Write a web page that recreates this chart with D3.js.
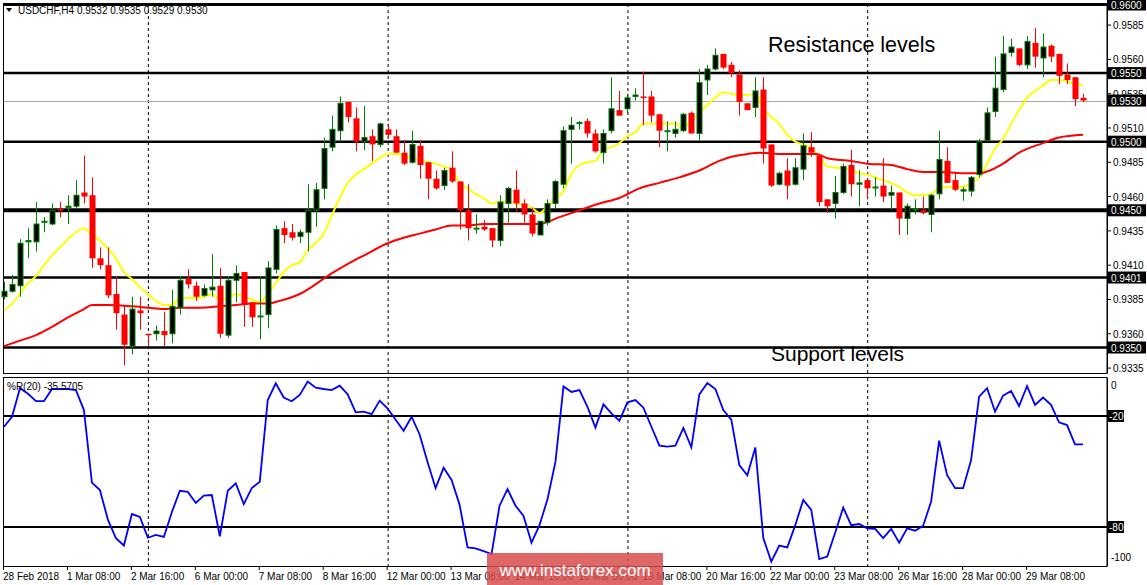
<!DOCTYPE html>
<html><head><meta charset="utf-8">
<script src="https://cdn.jsdelivr.net/npm/d3@7/dist/d3.min.js"></script>
<style>body{margin:0;background:#fff}svg{display:block}text{font-family:"Liberation Sans",Arial,sans-serif}</style>
</head><body><svg id="c" width="1147" height="585"></svg>
<script>
const open=[9387,9391,9395,9427,9427,9442,9440,9451,9452,9453,9463,9461,9415,9410,9389,9374,9351,9377,9360,9360,9362,9360,9379,9400,9395,9388,9392,9395,9359,9399,9405,9383,9373,9374,9407,9437,9434,9431,9434,9450,9466,9496,9508,9529,9517,9500,9504,9498,9509,9504,9492,9485,9497,9485,9473,9468,9481,9471,9450,9437,9438,9437,9428,9455,9465,9455,9447,9432,9441,9455,9469,9509,9514,9515,9506,9492,9508,9523,9524,9533,9533,9533,9520,9508,9506,9508,9521,9506,9545,9553,9564,9556,9549,9528,9525,9538,9498,9469,9479,9469,9480,9496,9490,9458,9455,9463,9483,9469,9472,9467,9468,9461,9463,9444,9451,9450,9447,9462,9486,9472,9464,9464,9476,9501,9522,9538,9565,9568,9556,9572,9561,9570,9564,9549,9547,9532];
const high=[9398,9403,9429,9437,9456,9445,9455,9456,9461,9472,9490,9474,9423,9423,9402,9381,9387,9387,9360,9366,9376,9392,9402,9407,9398,9396,9418,9408,9402,9410,9405,9383,9402,9413,9439,9442,9440,9436,9469,9470,9503,9519,9533,9529,9525,9526,9509,9514,9513,9509,9501,9508,9501,9485,9479,9481,9493,9471,9469,9447,9443,9437,9461,9467,9479,9458,9452,9442,9458,9472,9511,9518,9515,9517,9509,9509,9547,9537,9535,9539,9551,9537,9520,9515,9515,9521,9522,9553,9556,9568,9564,9558,9552,9528,9547,9547,9498,9478,9488,9488,9506,9507,9491,9458,9475,9484,9494,9479,9472,9474,9488,9468,9463,9455,9458,9460,9462,9508,9496,9478,9467,9475,9502,9525,9562,9577,9575,9568,9577,9583,9579,9571,9564,9557,9547,9535];
const low=[9385,9390,9387,9415,9420,9434,9439,9445,9440,9451,9455,9408,9407,9386,9363,9337,9345,9363,9351,9355,9351,9353,9374,9393,9384,9387,9387,9357,9357,9383,9365,9365,9356,9364,9404,9426,9428,9426,9420,9438,9458,9493,9500,9514,9493,9494,9486,9496,9503,9492,9483,9484,9473,9458,9465,9465,9470,9436,9428,9433,9435,9423,9424,9441,9449,9441,9431,9432,9439,9451,9466,9484,9509,9503,9492,9484,9506,9519,9521,9530,9512,9514,9496,9493,9503,9507,9506,9501,9534,9552,9553,9547,9519,9523,9518,9484,9467,9468,9458,9468,9472,9489,9453,9448,9444,9462,9460,9453,9458,9460,9456,9450,9432,9432,9447,9447,9434,9458,9470,9464,9457,9460,9474,9500,9518,9536,9562,9555,9553,9554,9547,9558,9542,9542,9526,9529];
const close=[9391,9396,9426,9428,9440,9442,9450,9450,9453,9461,9460,9415,9410,9388,9375,9352,9378,9375,9359,9362,9359,9380,9399,9396,9387,9393,9394,9360,9399,9404,9381,9372,9373,9408,9436,9432,9430,9434,9450,9465,9495,9509,9528,9518,9500,9503,9498,9513,9505,9492,9484,9498,9483,9473,9466,9479,9471,9450,9437,9437,9436,9428,9456,9466,9455,9447,9433,9442,9455,9471,9508,9512,9514,9506,9493,9506,9524,9519,9532,9534,9532,9519,9508,9508,9509,9520,9506,9543,9553,9563,9554,9550,9529,9523,9537,9495,9468,9477,9468,9481,9497,9492,9456,9453,9463,9482,9469,9470,9466,9467,9460,9463,9444,9453,9451,9448,9461,9487,9470,9465,9465,9474,9500,9521,9539,9564,9569,9556,9573,9562,9569,9562,9548,9545,9531,9530];
const ma20=[9377,9382,9389,9397,9402,9410,9417,9423,9429,9434,9437,9432,9428,9422,9415,9405,9400,9394,9389,9384,9381,9381,9386,9386,9386,9387,9389,9385,9386,9389,9387,9385,9383,9389,9397,9405,9410,9412,9421,9426,9433,9446,9459,9470,9476,9480,9484,9488,9491,9491,9490,9488,9487,9485,9484,9482,9480,9470,9466,9462,9459,9455,9456,9456,9455,9454,9452,9448,9453,9459,9464,9477,9483,9485,9486,9494,9496,9499,9504,9507,9513,9513,9513,9513,9513,9510,9516,9521,9527,9532,9536,9535,9534,9534,9535,9524,9518,9513,9505,9500,9498,9495,9489,9482,9481,9481,9479,9477,9476,9474,9472,9470,9467,9463,9461,9461,9462,9466,9467,9467,9467,9470,9474,9484,9495,9502,9513,9523,9532,9537,9541,9545,9545,9544,9542,9541];
const ma50Idx=[0,2,4,6,8,10,11,13,16,18,20,22,24.5,27,29,31,33,34.5,37,41,44,45,48,50,52,54,56,58,60,62,64.5,67,69.5,72,74.5,77,79.5,82,84.5,87,89.5,91,93,94.5,97,99.5,101.6,103,106,108,111,113,115,117,120,122,125,127,130,132,135];
const ma50=[9351,9355,9359,9365,9372,9378,9381,9381,9380,9379,9378,9379,9379,9380,9381,9382,9382,9384,9389,9404,9414,9417,9426,9430,9433,9436,9439,9439,9440,9440,9440,9440,9445,9450,9455,9459,9466,9470,9474,9479,9486,9489,9491,9492,9491,9491,9491,9488,9486,9484,9483,9480,9478,9478,9477,9477,9484,9492,9499,9503,9505];
const wpr=[-25.8,-20.4,-5,-8,-12,-12,-5.4,-5.4,-5.4,-6,-16.8,-56,-60,-76,-86,-90,-73,-74.6,-85.8,-84.3,-85.4,-72,-60.4,-61,-67,-63,-62.7,-85,-60.4,-56.4,-67.6,-59,-55.5,-11.4,-2.3,-10,-12,-8.6,-1.4,-4.7,-5.4,-6,-3.6,-8.3,-18,-17.6,-19,-11.7,-16,-22,-28,-20.4,-30,-45,-59,-48,-54.6,-68,-91,-91.5,-93,-94.6,-68.5,-59.5,-68.5,-74,-88.5,-79,-65,-44.7,-4,-7,-6,-15,-26.3,-13.7,-18.6,-22.5,-12.6,-11.4,-15.5,-25.8,-36,-36.6,-36,-26.5,-37,-8.3,-2.2,-5.4,-16.8,-22,-46.5,-52,-37,-86,-98.7,-90,-91,-79,-65.4,-70.8,-97.3,-96,-83,-69.5,-79,-78.4,-80.7,-81,-86,-81,-88.5,-80.7,-82,-79.3,-66.3,-33.3,-52,-59,-59,-43.8,-9.5,-5,-17.7,-9,-6.5,-14.6,-3.8,-14,-10,-14,-23.4,-24.9,-35.3,-35.3];
const timeLabels=["28 Feb 2018","1 Mar 08:00","2 Mar 16:00","6 Mar 00:00","7 Mar 08:00","8 Mar 16:00","12 Mar 00:00","13 Mar 08:00","14 Mar 16:00","16 Mar 00:00","19 Mar 08:00","20 Mar 16:00","22 Mar 00:00","23 Mar 08:00","26 Mar 16:00","28 Mar 00:00","29 Mar 08:00"];
const timeLabelPos=[0,8,16,24,32,40,48,56,64,72,80,88,96,104,112,120,128];
const levels=[{p:0.9600,w:3},{p:0.9550,w:2.5},{p:0.9500,w:2.5},{p:0.9450,w:4},{p:0.9401,w:2.5},{p:0.9350,w:2.5}];
const currentPrice=0.9530;
const priceTicks=[0.9585,0.9560,0.9535,0.9510,0.9485,0.9460,0.9435,0.9410,0.9385,0.9360,0.9335];
const separators=[18,48,78,108];
const wprLevels=[-20,-80];

const P=v=>v/10000;
const svg=d3.select("#c");
const x=d3.scaleLinear().domain([0,135]).range([4,1083]);
const y=d3.scaleLinear().domain([0.9350,0.9600]).range([347.5,4.5]);
const yw=d3.scaleLinear().domain([-100,0]).range([564,379]);
const R=1107;

svg.append("rect").attr("x",3.5).attr("y",3.5).attr("width",R-3.5).attr("height",370).attr("fill","none").attr("stroke","#000");
svg.append("rect").attr("x",3.5).attr("y",377.5).attr("width",R-3.5).attr("height",189).attr("fill","none").attr("stroke","#000");

separators.forEach(i=>{
  [[4,373],[378,566]].forEach(r=>svg.append("line").attr("x1",x(i)+0.5).attr("x2",x(i)+0.5).attr("y1",r[0]).attr("y2",r[1]).attr("stroke","#000").attr("stroke-dasharray","3,3"));
});

svg.append("line").attr("x1",4).attr("x2",R).attr("y1",Math.round(y(currentPrice))+0.5).attr("y2",Math.round(y(currentPrice))+0.5).attr("stroke","#aaa");
levels.forEach(l=>svg.append("line").attr("x1",4).attr("x2",R).attr("y1",y(l.p)).attr("y2",y(l.p)).attr("stroke","#000").attr("stroke-width",l.w));

const l20=d3.line().x((d,i)=>x(i)).y(d=>y(P(d))).curve(d3.curveMonotoneX);
svg.append("path").attr("d",l20(ma20)).attr("fill","none").attr("stroke","#ffff00").attr("stroke-width",2);
const l50=d3.line().x((d,i)=>x(ma50Idx[i])).y(d=>y(P(d))).curve(d3.curveMonotoneX);
svg.append("path").attr("d",l50(ma50)).attr("fill","none").attr("stroke","#ff0000").attr("stroke-width",2);

const g=svg.append("g");
open.forEach((o,i)=>{
  const c=close[i],bull=c>=o,cx=Math.round(x(i))+0.5;
  const col=bull?"#008000":"#ff0000";
  g.append("line").attr("x1",cx).attr("x2",cx).attr("y1",y(P(high[i]))).attr("y2",y(P(low[i]))).attr("stroke",col);
  const top=y(P(Math.max(o,c))),bot=y(P(Math.min(o,c)));
  if(bull) g.append("rect").attr("x",cx-2.5).attr("y",top).attr("width",5).attr("height",Math.max(1,bot-top)).attr("fill","#000").attr("stroke",col);
  else g.append("rect").attr("x",cx-3).attr("y",top).attr("width",6).attr("height",Math.max(1.5,bot-top)).attr("fill","#ff0000");
});

svg.append("text").attr("x",768).attr("y",52).attr("font-size",21.5).text("Resistance levels");
svg.append("text").attr("x",771).attr("y",361).attr("font-size",21).text("Support levels");
svg.append("path").attr("d","M6,8 L12,8 L9,12 Z").attr("fill","#000");
svg.append("text").attr("x",18).attr("y",14).attr("font-size",10).text("USDCHF,H4 0.9532 0.9535 0.9529 0.9530");

svg.append("line").attr("x1",R+0.5).attr("x2",R+0.5).attr("y1",0).attr("y2",373).attr("stroke","#000");
priceTicks.forEach(p=>{
  svg.append("line").attr("x1",R).attr("x2",R+4).attr("y1",y(p)).attr("y2",y(p)).attr("stroke","#000");
  svg.append("text").attr("x",1113).attr("y",y(p)+4).attr("font-size",10).text(p.toFixed(4));
});
levels.map(l=>l.p).concat([currentPrice]).forEach(p=>{
  svg.append("rect").attr("x",R+1).attr("y",y(p)-6).attr("width",38).attr("height",12).attr("fill","#000");
  svg.append("text").attr("x",1111).attr("y",y(p)+4).attr("font-size",10).attr("fill","#fff").text(p.toFixed(4));
});

wprLevels.forEach(v=>svg.append("line").attr("x1",4).attr("x2",R).attr("y1",yw(v)).attr("y2",yw(v)).attr("stroke","#000").attr("stroke-width",2));
svg.append("path").attr("d",d3.line().x((d,i)=>x(i)).y(d=>yw(d))(wpr)).attr("fill","none").attr("stroke","#0000ff").attr("stroke-width",1.8);
svg.append("text").attr("x",7).attr("y",390).attr("font-size",10).text("%R(20) -35.5705");
svg.append("line").attr("x1",R+0.5).attr("x2",R+0.5).attr("y1",378).attr("y2",566).attr("stroke","#000");
svg.append("text").attr("x",1111).attr("y",389).attr("font-size",10).text("0");
svg.append("text").attr("x",1111).attr("y",561).attr("font-size",10).text("-100");
wprLevels.forEach(v=>{
  svg.append("rect").attr("x",R+1).attr("y",yw(v)-6).attr("width",16).attr("height",12).attr("fill","#000");
  svg.append("text").attr("x",1109).attr("y",yw(v)+4).attr("font-size",10).attr("fill","#fff").text(v);
});

timeLabelPos.forEach((p,i)=>{
  const xx=x(p)-1;
  svg.append("line").attr("x1",xx+0.5).attr("x2",xx+0.5).attr("y1",566).attr("y2",570).attr("stroke","#000");
  svg.append("text").attr("x",xx).attr("y",580).attr("font-size",10).text(timeLabels[i]);
});

svg.append("rect").attr("x",487).attr("y",553).attr("width",176).attr("height",32).attr("fill","#d84c4c").attr("opacity",0.85);
svg.append("text").attr("x",575).attr("y",576).attr("text-anchor","middle").attr("font-size",17).attr("fill","#fff").text("www.instaforex.com");
</script></body></html>
